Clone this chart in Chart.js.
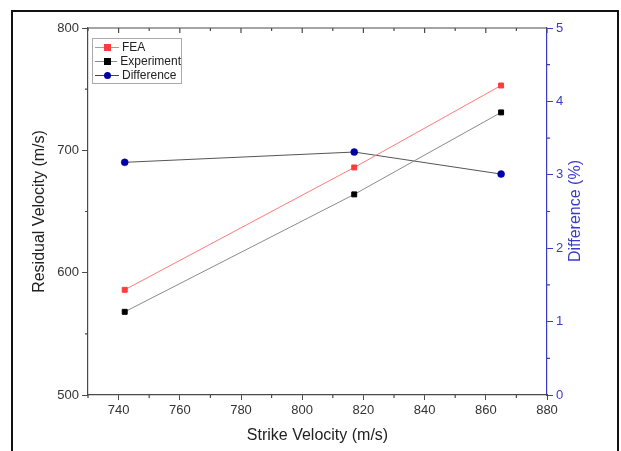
<!DOCTYPE html>
<html lang="en">

<head>
  <meta charset="UTF-8">
  <title>Residual velocity vs strike velocity</title>
  <script src="https://cdn.jsdelivr.net/npm/chart.js"></script>
  <style>
    html, body { margin: 0; padding: 0; background: #fff; }
    #wrap { position: relative; width: 621px; height: 451px; overflow: hidden; }
    #frame { position: absolute; left: 11px; top: 10px; width: 604px; height: 470px; border: 2px solid #111; }
    #legend {
      position: absolute; left: 92px; top: 38px; width: 88px;
      border: 1px solid #aaa; background: #fff;
      font: 12px "Liberation Sans", Arial, sans-serif; color: #222;
      padding: 1px 0;
    }
    .row { display: flex; align-items: center; height: 14px; }
    .sample { position: relative; width: 24px; height: 14px; margin: 0 3px 0 2px; }
    .sample .ln { position: absolute; left: 0; right: 0; top: 7px; height: 1px; }
    .sample .mk { position: absolute; left: 9px; top: 4px; width: 7px; height: 7px; }
    #y2title {
      position: absolute; left: 575px; top: 211px;
      transform: translate(-50%, -50%) rotate(-90deg);
      white-space: nowrap;
      font: 16px "Liberation Sans", Arial, sans-serif; color: #3a3ac8;
    }
  </style>
</head>

<body>
  <div id="wrap">
    <canvas id="chart" width="621" height="451"></canvas>
    <div id="frame"></div>
    <div id="legend"></div>
    <div id="y2title">Difference (%)</div>
  </div>

  <script>
    // data
    const strikeVelocity = [742, 817, 865];
    const feaValues = [586, 686, 753];
    const experimentValues = [568, 664, 731];
    const differenceValues = [3.17, 3.31, 3.01];

    const xTicks = [740, 760, 780, 800, 820, 840, 860, 880];
    const xMinor = [730, 750, 770, 790, 810, 830, 850, 870];
    const yTicks = [500, 600, 700, 800];
    const yMinor = [550, 650, 750];
    const y2Ticks = [0, 1, 2, 3, 4, 5];
    const y2Minor = [0.5, 1.5, 2.5, 3.5, 4.5];

    const axisGray = '#4a4a4a';
    const blue = '#3a3ac8';
    const font = "'Liberation Sans', Arial, sans-serif";

    const pts = vals => strikeVelocity.map((x, i) => ({ x, y: vals[i] }));

    // legend (html)
    const legendItems = [
      { label: 'FEA', line: '#ff7a7a', mk: '#ff3b3b', round: false },
      { label: 'Experiment', line: '#8a8a8a', mk: '#000', round: false },
      { label: 'Difference', line: '#444', mk: '#0000a8', round: true }
    ];
    document.getElementById('legend').innerHTML = legendItems.map(it =>
      `<div class="row"><span class="sample"><span class="ln" style="background:${it.line}"></span>` +
      `<span class="mk" style="background:${it.mk};${it.round ? 'border-radius:50%' : ''}"></span></span>${it.label}</div>`
    ).join('');

    // Origin-style minor ticks, top axis line and inward top ticks
    const originTicks = {
      id: 'originTicks',
      afterDraw(chart) {
        const { ctx, chartArea: a, scales } = chart;
        ctx.save();
        ctx.lineWidth = 1.2;
        ctx.strokeStyle = axisGray;
        ctx.beginPath();
        ctx.moveTo(a.left, a.top);
        ctx.lineTo(a.right, a.top);
        xTicks.forEach(v => {
          const px = scales.x.getPixelForValue(v);
          ctx.moveTo(px, a.top); ctx.lineTo(px, a.top + 5);
        });
        xMinor.forEach(v => {
          const px = scales.x.getPixelForValue(v);
          ctx.moveTo(px, a.top); ctx.lineTo(px, a.top + 3);
          ctx.moveTo(px, a.bottom); ctx.lineTo(px, a.bottom + 3);
        });
        yMinor.forEach(v => {
          const py = scales.y.getPixelForValue(v);
          ctx.moveTo(a.left, py); ctx.lineTo(a.left - 3, py);
        });
        ctx.stroke();
        ctx.strokeStyle = blue;
        ctx.beginPath();
        y2Minor.forEach(v => {
          const py = scales.y1.getPixelForValue(v);
          ctx.moveTo(a.right, py); ctx.lineTo(a.right + 3, py);
        });
        ctx.stroke();
        ctx.restore();
      }
    };

    const fixTicks = list => scale => { scale.ticks = list.map(v => ({ value: v })); };

    new Chart(document.getElementById('chart'), {
      type: 'line',
      data: {
        datasets: [
          {
            label: 'FEA', data: pts(feaValues), yAxisID: 'y',
            borderColor: '#ff7a7a', borderWidth: 1,
            pointStyle: 'rect', pointRadius: 3.5, pointBorderWidth: 1,
            pointBackgroundColor: '#ff3b3b', pointBorderColor: '#ff3b3b'
          },
          {
            label: 'Experiment', data: pts(experimentValues), yAxisID: 'y',
            borderColor: '#8a8a8a', borderWidth: 1,
            pointStyle: 'rect', pointRadius: 3.5, pointBorderWidth: 1,
            pointBackgroundColor: '#000', pointBorderColor: '#000'
          },
          {
            label: 'Difference', data: pts(differenceValues), yAxisID: 'y1',
            borderColor: '#555', borderWidth: 1,
            pointStyle: 'circle', pointRadius: 3.5, pointBorderWidth: 0.5,
            pointBackgroundColor: '#0000a8', pointBorderColor: '#0000a8'
          }
        ]
      },
      options: {
        responsive: false,
        animation: false,
        layout: { padding: { left: 28, top: 28, right: 18, bottom: 6 } },
        plugins: { legend: { display: false }, tooltip: { enabled: false } },
        scales: {
          x: {
            type: 'linear', min: 730, max: 880,
            afterBuildTicks: fixTicks(xTicks),
            afterFit: s => { s.height = 50; },
            border: { color: axisGray, width: 1.2 },
            grid: { drawOnChartArea: false, tickLength: 5, color: axisGray },
            ticks: { font: { family: font, size: 13 }, color: '#333', padding: 3 },
            title: { display: true, text: 'Strike Velocity (m/s)', font: { family: font, size: 16 }, color: '#222', padding: { top: 0, bottom: 0 } }
          },
          y: {
            position: 'left', min: 500, max: 800,
            afterBuildTicks: fixTicks(yTicks),
            afterFit: s => { s.width = 60; },
            border: { color: axisGray, width: 1.2 },
            grid: { drawOnChartArea: false, tickLength: 6, color: axisGray },
            ticks: { font: { family: font, size: 13 }, color: '#333', padding: 3 },
            title: { display: true, text: 'Residual Velocity (m/s)', font: { family: font, size: 16 }, color: '#222', padding: { top: 2, bottom: 5 } }
          },
          y1: {
            position: 'right', min: 0, max: 5,
            afterBuildTicks: fixTicks(y2Ticks),
            afterFit: s => { s.width = 56; },
            border: { color: blue, width: 1.2 },
            grid: { drawOnChartArea: false, tickLength: 6, color: blue },
            ticks: { font: { family: font, size: 13 }, color: blue, padding: 3 },
            title: { display: false }
          }
        }
      },
      plugins: [originTicks]
    });
  </script>
</body>

</html>
